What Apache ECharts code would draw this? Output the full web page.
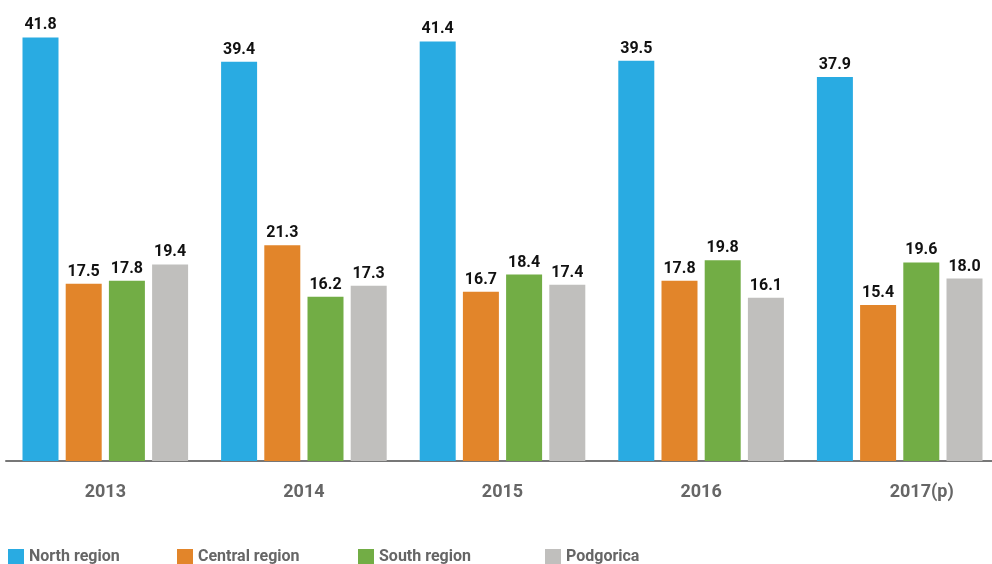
<!DOCTYPE html>
<html>
<head>
<meta charset="utf-8">
<script src="https://cdn.jsdelivr.net/npm/echarts@6/dist/echarts.min.js"></script>
<style>
    html, body { margin: 0; padding: 0; background: #fff; overflow: hidden; }
    #main { width: 1000px; height: 564px; }
</style>
</head>
<body>
<div id="main"></div>
<script>
    var years = ['2013', '2014', '2015', '2016', '2017(p)'];
    var north = [41.8, 39.4, 41.4, 39.5, 37.9];
    var central = [17.5, 21.3, 16.7, 17.8, 15.4];
    var south = [17.8, 16.2, 18.4, 19.8, 19.6];
    var podgorica = [19.4, 17.3, 17.4, 16.1, 18.0];

    var names = ['North region', 'Central region', 'South region', 'Podgorica'];
    var colors = ['#29ABE2', '#E2852A', '#72AD45', '#C0BFBD'];
    var legendLeft = [3, 172, 353, 540];

    var myChart = echarts.init(document.getElementById('main'));

    function makeSeries(name, data, color) {
        return {
            name: name,
            type: 'bar',
            barWidth: 36,
            barGap: '20%',
            itemStyle: { color: color },
            label: {
                show: true,
                position: 'top',
                distance: 4,
                color: '#111',
                fontSize: 16,
                fontWeight: 'bold',
                fontFamily: 'Roboto',
                formatter: function (p) { return p.value.toFixed(1); }
            },
            data: data
        };
    }

    var legends = names.map(function (n, i) {
        return {
            data: [n],
            left: legendLeft[i],
            top: 544,
            itemWidth: 16,
            itemHeight: 16,
            itemGap: 0,
            icon: 'rect',
            textStyle: { color: '#666', fontSize: 16, fontWeight: 'bold', fontFamily: 'Roboto' }
        };
    });

    var option = {
        animation: false,
        legend: legends,
        grid: { left: 6, right: 1, top: 5, bottom: 103 },
        xAxis: {
            type: 'category',
            data: years,
            axisTick: { show: false },
            axisLine: { lineStyle: { color: '#777', width: 2 } },
            axisLabel: {
                margin: 22,
                color: '#666',
                fontSize: 18,
                fontWeight: 'bold',
                fontFamily: 'Roboto',
                formatter: function (v) {
                    return v === '2017(p)' ? '{last|' + v + '}' : v;
                },
                rich: {
                    last: { color: '#666', fontSize: 18, fontWeight: 'bold', fontFamily: 'Roboto', padding: [0, 0, 0, 44] }
                }
            }
        },
        yAxis: {
            type: 'value',
            min: 0,
            max: 45,
            show: false
        },
        series: [
            makeSeries(names[0], north, colors[0]),
            makeSeries(names[1], central, colors[1]),
            makeSeries(names[2], south, colors[2]),
            makeSeries(names[3], podgorica, colors[3])
        ]
    };
    myChart.setOption(option);
</script>
</body>
</html>
